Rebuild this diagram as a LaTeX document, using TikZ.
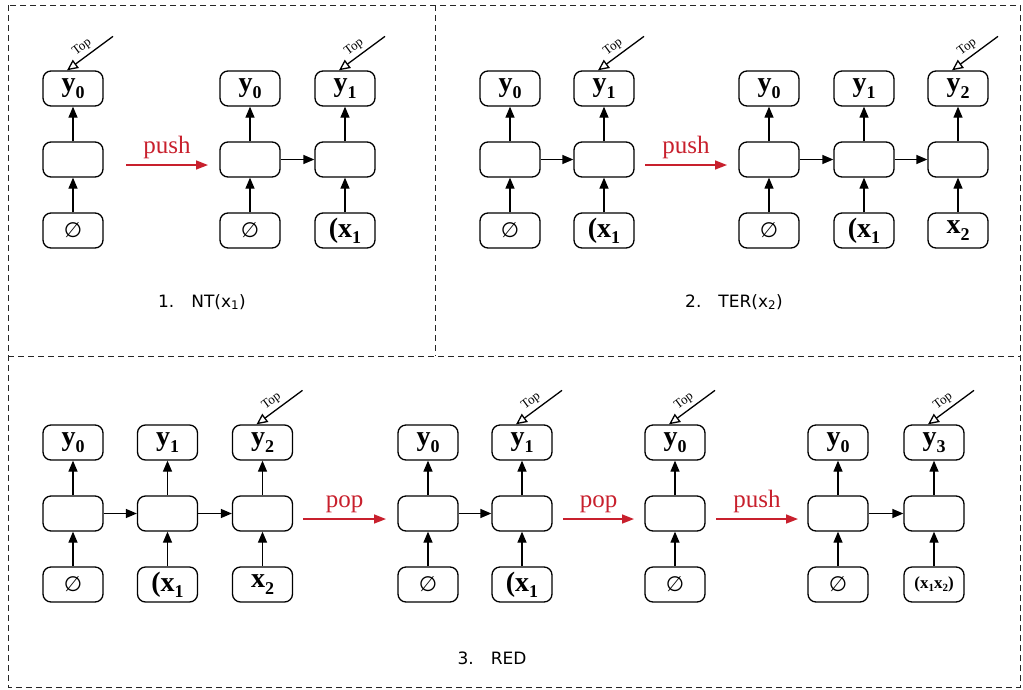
\documentclass[tikz,border=0pt]{standalone}
\usepackage{fontspec}
\setmainfont{Liberation Serif}
\newfontfamily\capfont{DejaVu Sans}
\usepackage{tikz}
\usetikzlibrary{arrows.meta, calc, positioning}

\definecolor{opred}{RGB}{200,32,45}

% bold label with a subscript, as in the cells
\newcommand{\bsub}[2]{\textbf{#1}\raisebox{-0.5ex}{\fontsize{18}{18}\selectfont\bfseries #2}}
\newcommand{\nothingin}{{\capfont\fontsize{21}{21}\selectfont ∅}}

% one column of the stack: output, hidden cell, input
\newcommand{\stackcol}[5]{%
  \node[cell] (#1h) at (#2,#3) {};
  \node[cell] (#1o) at (#2,#3-71) {#4};
  \node[cell] (#1i) at (#2,#3+71) {#5};
  \draw[flow] (#1i) -- (#1h);
  \draw[flow] (#1h) -- (#1o);
}

% the "Top" pointer onto an output cell
\newcommand{\toppointer}[1]{%
  \coordinate (#1t) at ($(#1o.north)+(40,-34)$);
  \draw[topptr] (#1t) -- ([xshift=-6pt]#1o.north)
    node[pos=0.55, sloped, above=3pt, inner sep=0pt, font=\fontsize{13}{13}\selectfont] {Top};
}

\begin{document}
\begin{tikzpicture}[x=1pt, y=-1pt,
    cell/.style   = {draw, line width=1.3pt, rounded corners=8pt,
                     minimum width=60pt, minimum height=35pt, inner sep=0pt,
                     font=\fontsize{28}{28}\selectfont},
    flow/.style   = {line width=1.3pt, -{Triangle[length=11pt, width=9pt]}},
    topptr/.style = {line width=1.3pt, -{Triangle[open, length=11pt, width=10pt]}},
    op/.style     = {line width=1.6pt, opred, -{Triangle[length=12pt, width=9pt]}},
    oplabel/.style= {opred, font=\fontsize{25}{25}\selectfont},
    frame/.style  = {line width=1pt, black!85, dash pattern=on 6pt off 4pt},
    caption/.style= {font=\capfont\fontsize{17}{17}\selectfont}
  ]
  \useasboundingbox (0,0) rectangle (1023,689);

  % panels
  \draw[frame] (8,5) rectangle (1020,687);
  \draw[frame] (8,356) -- (1020,356);
  \draw[frame] (435,5) -- (435,356);

  % 1. NT(x1)
  \stackcol{a}{73}{159.5}{\bsub{y}{0}}{\nothingin}
  \toppointer{a}
  \stackcol{b}{250}{159.5}{\bsub{y}{0}}{\nothingin}
  \stackcol{c}{345}{159.5}{\bsub{y}{1}}{\bsub{(x}{1}}
  \draw[flow] (bh) -- (ch);
  \toppointer{c}
  \coordinate (ps1) at (126,165);
  \coordinate (pe1) at (208,165);
  \draw[op] (ps1) -- (pe1) node[midway, above=2pt, oplabel] {push};
  \node[caption] (cap1) at (202,302) {1.\quad NT(x\textsubscript{1})};

  % 2. TER(x2)
  \stackcol{d}{510}{159.5}{\bsub{y}{0}}{\nothingin}
  \stackcol{e}{604}{159.5}{\bsub{y}{1}}{\bsub{(x}{1}}
  \draw[flow] (dh) -- (eh);
  \toppointer{e}
  \coordinate (ps2) at (645,165);
  \coordinate (pe2) at (727,165);
  \draw[op] (ps2) -- (pe2) node[midway, above=2pt, oplabel] {push};
  \stackcol{f}{769}{159.5}{\bsub{y}{0}}{\nothingin}
  \stackcol{g}{864}{159.5}{\bsub{y}{1}}{\bsub{(x}{1}}
  \stackcol{k}{958}{159.5}{\bsub{y}{2}}{\bsub{x}{2}}
  \draw[flow] (fh) -- (gh);
  \draw[flow] (gh) -- (kh);
  \toppointer{k}
  \node[caption] (cap2) at (734,302) {2.\quad TER(x\textsubscript{2})};

  % 3. RED
  \stackcol{l}{73}{513.5}{\bsub{y}{0}}{\nothingin}
  \stackcol{m}{167.5}{513.5}{\bsub{y}{1}}{\bsub{(x}{1}}
  \stackcol{n}{262.5}{513.5}{\bsub{y}{2}}{\bsub{x}{2}}
  \draw[flow] (lh) -- (mh);
  \draw[flow] (mh) -- (nh);
  \toppointer{n}
  \coordinate (ps3) at (303,519);
  \coordinate (pe3) at (386,519);
  \draw[op] (ps3) -- (pe3) node[midway, above=2pt, oplabel] {pop};

  \stackcol{q}{428}{513.5}{\bsub{y}{0}}{\nothingin}
  \stackcol{r}{522}{513.5}{\bsub{y}{1}}{\bsub{(x}{1}}
  \draw[flow] (qh) -- (rh);
  \toppointer{r}
  \coordinate (ps4) at (563,519);
  \coordinate (pe4) at (634,519);
  \draw[op] (ps4) -- (pe4) node[midway, above=2pt, oplabel] {pop};

  \stackcol{s}{675}{513.5}{\bsub{y}{0}}{\nothingin}
  \toppointer{s}
  \coordinate (ps5) at (716,519);
  \coordinate (pe5) at (798,519);
  \draw[op] (ps5) -- (pe5) node[midway, above=2pt, oplabel] {push};

  \stackcol{u}{838}{513.5}{\bsub{y}{0}}{\nothingin}
  \stackcol{v}{934}{513.5}{\bsub{y}{3}}{{\fontsize{17}{17}\selectfont\bfseries (x\raisebox{-0.4ex}{\fontsize{11}{11}\selectfont 1}x\raisebox{-0.4ex}{\fontsize{11}{11}\selectfont 2})}}
  \draw[flow] (uh) -- (vh);
  \toppointer{v}
  \node[caption] (cap3) at (492,658) {3.\quad RED};
\end{tikzpicture}
\end{document}
